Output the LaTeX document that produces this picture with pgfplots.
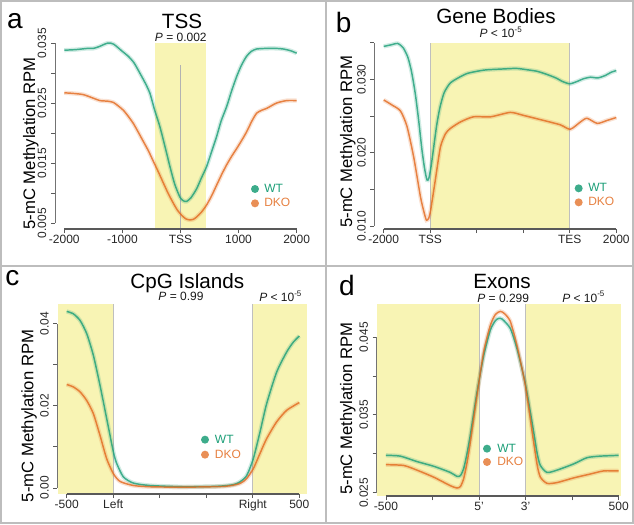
\documentclass[border=0pt]{standalone}
\usepackage{fontspec}
\setmainfont{Liberation Sans}
\usepackage{pgfplots}
\usepackage{pgfplotstable}
\pgfplotsset{compat=1.18}

\definecolor{wt}{HTML}{1B9E77}
\definecolor{dko}{HTML}{E2691E}
\definecolor{band}{HTML}{F8F4B4}
\definecolor{framegray}{HTML}{BDBDBD}

% panel a: TSS (bp)
\pgfplotstableread{
x y
-2000 0.0338
-1800 0.0339
-1600 0.0341
-1500 0.0341
-1400 0.0344
-1250 0.0350
-1150 0.0348
-1000 0.0336
-900 0.0328
-800 0.0317
-700 0.0300
-600 0.0282
-525 0.0266
-450 0.0240
-353 0.0210
-260 0.0175
-181 0.0144
-100 0.0115
-9 0.0093
50 0.0087
106 0.0086
180 0.0092
278 0.0107
360 0.0125
450 0.0144
540 0.0170
622 0.0194
700 0.0220
795 0.0244
880 0.0270
967 0.0294
1050 0.0313
1139 0.0328
1220 0.0336
1311 0.0340
1483 0.0341
1650 0.0341
1770 0.0340
1900 0.0337
2000 0.0333
}\tssWT
\pgfplotstableread{
x y
-2000 0.0267
-1850 0.0266
-1673 0.0264
-1500 0.0258
-1386 0.0254
-1250 0.0253
-1156 0.0251
-1070 0.0245
-984 0.0238
-900 0.0228
-812 0.0216
-730 0.0202
-640 0.0186
-550 0.0170
-468 0.0153
-380 0.0135
-296 0.0117
-210 0.0099
-123 0.0083
-50 0.0071
20 0.0063
90 0.0057
164 0.0055
220 0.0056
278 0.0060
360 0.0068
450 0.0080
540 0.0096
622 0.0113
710 0.0131
795 0.0147
880 0.0161
967 0.0174
1050 0.0187
1139 0.0202
1230 0.0220
1311 0.0233
1400 0.0238
1483 0.0241
1656 0.0250
1828 0.0254
2000 0.0254
}\tssDKO

% panel b: gene bodies (0=-2000, 1=TSS, 4=TES, 5=+2000)
\pgfplotstableread{
x y
0 0.0345
0.15 0.0347
0.3 0.0349
0.42 0.0343
0.52 0.0330
0.6 0.0310
0.68 0.0280
0.75 0.0245
0.82 0.0205
0.88 0.0178
0.93 0.0163
0.97 0.0165
1.02 0.0182
1.08 0.0210
1.14 0.0238
1.21 0.0262
1.3 0.0282
1.43 0.0295
1.6 0.0302
1.79 0.0308
2.0 0.0311
2.2 0.0313
2.5 0.0314
2.85 0.0315
3.1 0.0313
3.3 0.0311
3.5 0.0307
3.7 0.0302
3.85 0.0297
4.0 0.0294
4.15 0.0297
4.3 0.0301
4.45 0.0303
4.6 0.0302
4.75 0.0305
4.9 0.0310
5.0 0.0312
}\gbWT
\pgfplotstableread{
x y
0 0.0272
0.18 0.0265
0.36 0.0257
0.5 0.0236
0.645 0.0194
0.79 0.0140
0.87 0.0118
0.92 0.0108
0.97 0.0111
1.01 0.0122
1.11 0.0163
1.22 0.0208
1.33 0.0226
1.43 0.0233
1.65 0.0242
1.93 0.0249
2.3 0.0249
2.72 0.0255
3.0 0.0251
3.44 0.0244
3.8 0.0238
4.01 0.0232
4.23 0.0242
4.37 0.0247
4.59 0.0240
4.8 0.0244
5.0 0.0248
}\gbDKO

% panel c: CpG islands
\pgfplotstableread{
x y
0 0.0430
0.143 0.0424
0.287 0.0408
0.430 0.0376
0.573 0.0323
0.716 0.0250
0.860 0.0169
1.003 0.0088
1.074 0.0060
1.218 0.0027
1.433 0.0012
1.791 0.0006
2.507 0.0003
3.223 0.0004
3.582 0.0008
3.725 0.0015
3.868 0.0030
4.011 0.0071
4.155 0.0136
4.298 0.0205
4.513 0.0282
4.728 0.0331
4.871 0.0355
5.0 0.0370
}\cpgWT
\pgfplotstableread{
x y
0 0.0252
0.143 0.0246
0.287 0.0234
0.430 0.0213
0.573 0.0181
0.716 0.0128
0.860 0.0071
1.003 0.0035
1.146 0.0016
1.433 0.0006
1.791 0.0003
2.5 0.0002
3.4 0.0004
3.725 0.0011
3.868 0.0023
4.011 0.0047
4.155 0.0084
4.298 0.0120
4.513 0.0161
4.728 0.0189
5.0 0.0208
}\cpgDKO

% panel d: exons
\pgfplotstableread{
x y
0 0.0298
0.308 0.0297
0.666 0.0290
1.024 0.0284
1.383 0.0276
1.526 0.0271
1.6 0.0272
1.669 0.0281
1.74 0.0300
1.812 0.0324
1.956 0.0379
2.099 0.0426
2.242 0.0459
2.35 0.0471
2.421 0.0474
2.5 0.0473
2.672 0.0461
2.815 0.0435
2.994 0.0390
3.173 0.0328
3.25 0.0300
3.317 0.0285
3.46 0.0276
3.675 0.0279
4.033 0.0287
4.319 0.0295
4.606 0.0297
5.0 0.0298
}\exWT
\pgfplotstableread{
x y
0 0.0286
0.38 0.0285
0.666 0.0279
1.024 0.0270
1.383 0.0259
1.526 0.0256
1.6 0.0258
1.669 0.0268
1.74 0.0288
1.812 0.0315
1.956 0.0375
2.099 0.0431
2.242 0.0465
2.35 0.0479
2.457 0.0483
2.55 0.0480
2.672 0.0470
2.815 0.0439
2.994 0.0388
3.173 0.0315
3.25 0.0285
3.317 0.0270
3.46 0.0262
3.675 0.0263
4.033 0.0269
4.391 0.0274
4.678 0.0278
5.0 0.0278
}\exDKO

\pgfplotsset{
  panel/.style={
    scale only axis, clip=false,
    axis x line*=bottom, axis y line*=left,
    axis line style={draw=none},
    scaled y ticks=false, scaled x ticks=false,
    tick align=outside, major tick length=3pt,
    tick style={draw=black!65, line width=0.7pt},
    ticklabel style={font=\fontsize{9}{10}\selectfont, text=black!85},
    xticklabel style={yshift=2pt},
    yticklabel style={rotate=90, anchor=south},
  },
  rib/.style={#1, line width=3.2pt, opacity=0.2, smooth, tension=0.4},
  crv/.style={#1, line width=1.1pt, opacity=0.8, smooth, tension=0.4},
}
\tikzset{
  xax/.style={black!65, line width=1.3pt},
  yax/.style={black!55, line width=0.7pt},
  edge/.style={black!25, line width=0.6pt},
  ttl/.style={anchor=base, inner sep=0, font=\fontsize{15.5}{16}\selectfont},
  pv/.style={anchor=base, inner sep=0, font=\fontsize{9}{10}\selectfont, text=black!90},
  lett/.style={anchor=base, inner sep=0, font=\fontsize{21}{22}\selectfont},
  ylab/.style={anchor=base, rotate=90, inner sep=0, font=\fontsize{12.5}{13}\selectfont},
  leg/.style={anchor=mid west, inner sep=0, font=\fontsize{9}{10}\selectfont},
}

\begin{document}
\begin{tikzpicture}
\path[use as bounding box] (0,0) rectangle (475.5pt,-393pt);

% ---- a: TSS
\begin{axis}[panel, at={(41.25pt,-171.75pt)}, anchor=south west,
  width=188.2pt, height=144.9pt,
  xmin=-2160, xmax=2160, ymin=0.004, ymax=0.0362,
  xtick={-2000,-1000,0,1000,2000}, xticklabels={-2000,-1000,TSS,1000,2000},
  ytick={0.005,0.010,0.015,0.020,0.025,0.030,0.035},
  yticklabels={0.005,,0.015,,0.025,,0.035}]
\fill[band] (axis cs:-440,0.004) rectangle (axis cs:440,0.035);
\draw[black!30, line width=0.6pt] (axis cs:0,0.0313) -- (axis cs:0,0.004);
\addplot[rib=wt] table {\tssWT};
\addplot[rib=dko] table {\tssDKO};
\addplot[crv=wt] table {\tssWT};
\addplot[crv=dko] table {\tssDKO};
\draw[xax] (axis cs:-2000,0.004) -- (axis cs:2000,0.004);
\draw[yax] (axis cs:-2160,0.005) -- (axis cs:-2160,0.035);
\end{axis}

% ---- b: gene bodies
\begin{axis}[panel, at={(280.8pt,-171.75pt)}, anchor=south west,
  width=188.4pt, height=144.65pt,
  xmin=-0.2, xmax=5.2, ymin=0.0096, ymax=0.0359,
  xtick={0,1,2,3,4,5}, xticklabels={-2000,TSS,,,TES,2000},
  ytick={0.010,0.015,0.020,0.025,0.030,0.035},
  yticklabels={0.010,,0.020,,0.030,}]
\fill[band] (axis cs:1,0.0096) rectangle (axis cs:4,0.0350);
\draw[edge] (axis cs:1,0.0096) -- (axis cs:1,0.0350);
\draw[edge] (axis cs:4,0.0096) -- (axis cs:4,0.0350);
\addplot[rib=wt] table {\gbWT};
\addplot[rib=dko] table {\gbDKO};
\addplot[crv=wt] table {\gbWT};
\addplot[crv=dko] table {\gbDKO};
\draw[xax] (axis cs:0,0.0096) -- (axis cs:5,0.0096);
\draw[yax] (axis cs:-0.2,0.010) -- (axis cs:-0.2,0.035);
\end{axis}

% ---- c: CpG islands
\begin{axis}[panel, at={(43.05pt,-370.6pt)}, anchor=south west,
  width=188.4pt, height=142.3pt,
  xmin=-0.2, xmax=5.2, ymin=-0.0015, ymax=0.0447,
  xtick={0,1,2,3,4,5}, xticklabels={-500,Left,,,Right,500},
  ytick={0,0.01,0.02,0.03,0.04},
  yticklabels={0.00,,0.02,,0.04}]
\fill[band] (axis cs:-0.18,-0.0015) rectangle (axis cs:1,0.0447);
\fill[band] (axis cs:4,-0.0015) rectangle (axis cs:5.16,0.0447);
\draw[edge] (axis cs:1,-0.0015) -- (axis cs:1,0.0447);
\draw[edge] (axis cs:4,-0.0015) -- (axis cs:4,0.0447);
\addplot[rib=wt] table {\cpgWT};
\addplot[rib=dko] table {\cpgDKO};
\addplot[crv=wt] table {\cpgWT};
\addplot[crv=dko] table {\cpgDKO};
\draw[xax] (axis cs:0,-0.0015) -- (axis cs:5,-0.0015);
\draw[yax] (axis cs:-0.2,0) -- (axis cs:-0.2,0.04);
\end{axis}

% ---- d: exons
\begin{axis}[panel, at={(282.5pt,-372.2pt)}, anchor=south west,
  width=188.5pt, height=143.9pt,
  xmin=-0.2, xmax=5.2, ymin=0.02454, ymax=0.0492,
  xtick={0,1,2,3,4,5}, xticklabels={-500,,5',3',,500},
  ytick={0.025,0.030,0.035,0.040,0.045},
  yticklabels={0.025,,0.035,,0.045}]
\fill[band] (axis cs:-0.2,0.02454) rectangle (axis cs:2,0.0492);
\fill[band] (axis cs:3,0.02454) rectangle (axis cs:5.05,0.0492);
\draw[edge] (axis cs:2,0.02454) -- (axis cs:2,0.0492);
\draw[edge] (axis cs:3,0.02454) -- (axis cs:3,0.0492);
\addplot[rib=wt] table {\exWT};
\addplot[rib=dko] table {\exDKO};
\addplot[crv=wt] table {\exWT};
\addplot[crv=dko] table {\exDKO};
\draw[xax] (axis cs:0,0.02454) -- (axis cs:5,0.02454);
\draw[yax] (axis cs:-0.2,0.025) -- (axis cs:-0.2,0.045);
\end{axis}

% ---- panel frames
\draw[framegray, line width=1.5pt] (0.75pt,-0.75pt) rectangle (474.75pt,-392.25pt);
\draw[framegray, line width=1.5pt] (244.5pt,0) -- (244.5pt,-393pt);
\draw[framegray, line width=1.5pt] (0,-199.5pt) -- (475.5pt,-199.5pt);

% ---- texts panel a
\node[lett] at (11.25pt,-21.25pt) {a};
\node[ttl] at (136.5pt,-21.5pt) {TSS};
\node[pv] at (135.6pt,-31.1pt) {\textit{P} = 0.002};
\node[ylab] at (26.25pt,-107.5pt) {5-mC Methylation RPM};
\fill[wt, opacity=0.85] (191.25pt,-141.75pt) circle (3pt);
\fill[dko, opacity=0.75] (191.25pt,-152.5pt) circle (3pt);
\node[leg, text=wt] at (198pt,-141.75pt) {WT};
\node[leg, text=dko!85] at (198pt,-152.5pt) {DKO};

% ---- texts panel b
\node[lett] at (257.75pt,-24.25pt) {b};
\node[ttl] at (372pt,-17.5pt) {Gene Bodies};
\node[pv] at (375.75pt,-28.5pt) {\textit{P} < 10\textsuperscript{-5}};
\node[ylab] at (264pt,-106.25pt) {5-mC Methylation RPM};
\fill[wt, opacity=0.85] (434pt,-141.25pt) circle (3pt);
\fill[dko, opacity=0.75] (434pt,-151.75pt) circle (3pt);
\node[leg, text=wt] at (441pt,-141.25pt) {WT};
\node[leg, text=dko!85] at (441pt,-151.75pt) {DKO};

% ---- texts panel c
\node[lett] at (9.25pt,-214pt) {c};
\node[ttl] at (140.5pt,-216pt) {CpG Islands};
\node[pv] at (135.75pt,-225.5pt) {\textit{P} = 0.99};
\node[pv] at (210.5pt,-226pt) {\textit{P} < 10\textsuperscript{-5}};
\node[ylab] at (25pt,-312pt) {5-mC Methylation RPM};
\fill[wt, opacity=0.85] (153.75pt,-329.75pt) circle (3pt);
\fill[dko, opacity=0.75] (153.75pt,-341pt) circle (3pt);
\node[leg, text=wt] at (161pt,-329.75pt) {WT};
\node[leg, text=dko!85] at (161pt,-341pt) {DKO};

% ---- texts panel d
\node[lett] at (260.25pt,-221.5pt) {d};
\node[ttl] at (376.5pt,-216pt) {Exons};
\node[pv] at (377.4pt,-226.5pt) {\textit{P} = 0.299};
\node[pv] at (437.75pt,-226.5pt) {\textit{P} < 10\textsuperscript{-5}};
\node[ylab] at (264pt,-306.5pt) {5-mC Methylation RPM};
\fill[wt, opacity=0.85] (365.25pt,-336.5pt) circle (3pt);
\fill[dko, opacity=0.75] (365.25pt,-346.5pt) circle (3pt);
\node[leg, text=wt] at (372.75pt,-336.5pt) {WT};
\node[leg, text=dko!85] at (372.75pt,-346.5pt) {DKO};
\end{tikzpicture}
\end{document}
